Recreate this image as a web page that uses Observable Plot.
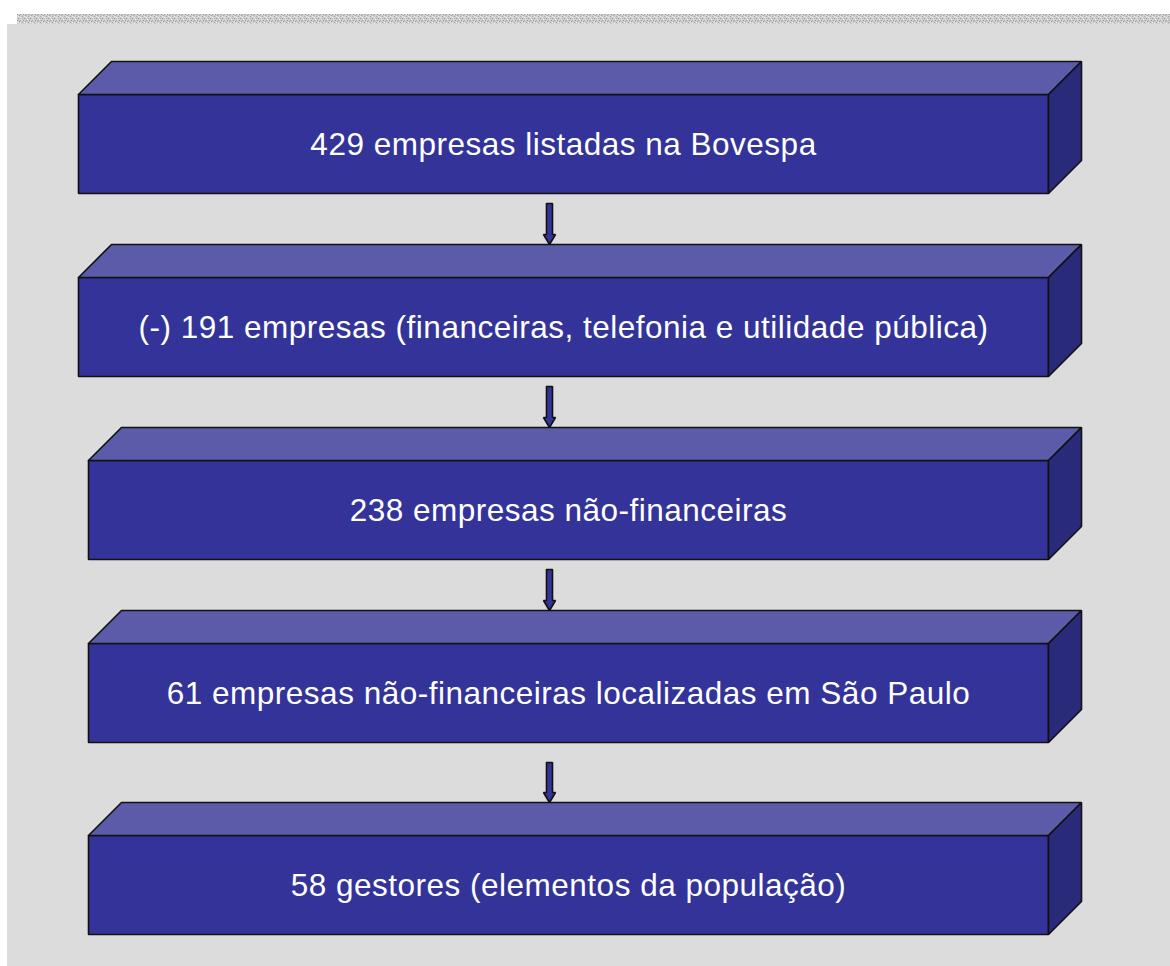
<!DOCTYPE html>
<html>
<head>
<meta charset="utf-8">
<script src="https://cdn.jsdelivr.net/npm/d3@7"></script>
<script src="https://cdn.jsdelivr.net/npm/@observablehq/plot@0.6"></script>
<style>
  html, body { margin: 0; padding: 0; background: #ffffff; overflow: hidden; }
  #chart svg { display: block; }
</style>
</head>
<body>
<div id="chart"></div>
<script>
// ---- data ----
const steps = [
  "429 empresas listadas na Bovespa",
  "(-) 191 empresas (financeiras, telefonia e utilidade pública)",
  "238 empresas não-financeiras",
  "61 empresas não-financeiras localizadas em São Paulo",
  "58 gestores (elementos da população)"
];

// ---- layout (pixels) ----
const W = 1170, H = 966;
const boxLeft = [78, 78, 88, 88, 88];
const boxRight = 1048;
const frontTop = [94, 277, 460, 643, 835];
const frontH = 99;
const depth = 33;
const arrowTop = [203, 386, 569, 762];
const arrowX = 549, shaftHalf = 3, headHalf = 6, headH = 10;

const colFront = "#333399", colTop = "#5b5baa", colSide = "#2a2a7b";

// build polygons
const polys = [];
steps.forEach((s, i) => {
  const x0 = boxLeft[i], x1 = boxRight, y0 = frontTop[i], y1 = y0 + frontH;
  const add = (id, pts, fill) => pts.concat([pts[0]]).forEach(([x, y]) => polys.push({id, x, y, fill}));
  add(`f${i}`, [[x0, y0], [x1, y0], [x1, y1], [x0, y1]], colFront);
  add(`t${i}`, [[x0, y0], [x0 + depth, y0 - depth], [x1 + depth, y0 - depth], [x1, y0]], colTop);
  add(`s${i}`, [[x1, y0], [x1 + depth, y0 - depth], [x1 + depth, y1 - depth], [x1, y1]], colSide);
});
arrowTop.forEach((yt, i) => {
  const tip = frontTop[i + 1] - depth;
  const hy = tip - headH;
  const pts = [[arrowX - shaftHalf, yt], [arrowX + shaftHalf, yt], [arrowX + shaftHalf, hy], [arrowX + headHalf, hy],
               [arrowX, tip], [arrowX - headHalf, hy], [arrowX - shaftHalf, hy]];
  pts.concat([pts[0]]).forEach(([x, y]) => polys.push({id: `a${i}`, x, y, fill: colFront}));
});

const labels = steps.map((s, i) => ({
  text: s,
  x: (boxLeft[i] + boxRight) / 2,
  y: frontTop[i] + frontH / 2
}));

const chart = Plot.plot({
  width: W,
  height: H,
  margin: 0,
  x: {domain: [0, W], range: [0, W], axis: null},
  y: {domain: [0, H], range: [0, H], axis: null},
  style: {background: "#ffffff", fontFamily: "'Liberation Sans', Arial, sans-serif"},
  marks: [
    Plot.rect([{x1: 7, x2: W, y1: 24, y2: H}], {x1: "x1", x2: "x2", y1: "y1", y2: "y2", fill: "#dcdcdc"}),
    Plot.rect([{x1: 17, x2: W, y1: 14, y2: 24}], {x1: "x1", x2: "x2", y1: "y1", y2: "y2", fill: "url(#dots)"}),
    Plot.line(polys, {x: "x", y: "y", z: "id", fill: "fill", stroke: "#111111", strokeWidth: 1.6, strokeLinejoin: "miter", curve: "linear"}),
    Plot.text(labels, {x: "x", y: "y", text: "text", fill: "#ffffff", fontSize: 31.5, textAnchor: "middle", dy: 1})
  ]
});

// letter spacing on the labels (Windows-like text width)
chart.querySelectorAll("text").forEach(t => t.setAttribute("letter-spacing", "0.5"));

// dotted texture for the top strip
const ns = "http://www.w3.org/2000/svg";
const defs = document.createElementNS(ns, "defs");
const pat = document.createElementNS(ns, "pattern");
pat.setAttribute("id", "dots");
pat.setAttribute("width", "6");
pat.setAttribute("height", "6");
pat.setAttribute("patternUnits", "userSpaceOnUse");
const bg = document.createElementNS(ns, "rect");
bg.setAttribute("width", "6"); bg.setAttribute("height", "6"); bg.setAttribute("fill", "#cfcfcf");
pat.appendChild(bg);
[[0,0,"#8f8f8f"],[3,1,"#f2f2f2"],[1,3,"#9c9c9c"],[4,4,"#a6a6a6"],[2,5,"#eeeeee"],[5,2,"#989898"],[0,4,"#f0f0f0"],[4,0,"#b0b0b0"],[2,2,"#a4a4a4"]].forEach(([x,y,c]) => {
  const r = document.createElementNS(ns, "rect");
  r.setAttribute("x", x); r.setAttribute("y", y); r.setAttribute("width", "1"); r.setAttribute("height", "1"); r.setAttribute("fill", c);
  pat.appendChild(r);
});
defs.appendChild(pat);
chart.insertBefore(defs, chart.firstChild);

document.getElementById("chart").appendChild(chart);
</script>
</body>
</html>
